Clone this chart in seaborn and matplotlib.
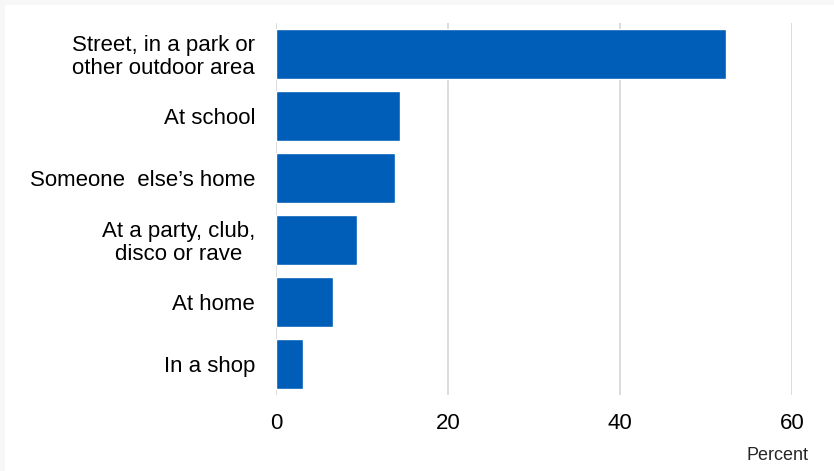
import matplotlib
matplotlib.use('Agg')
import matplotlib.pyplot as plt
from matplotlib.patches import Rectangle
import seaborn as sns
import pandas as pd

locations = ['Street, in a park or\nother outdoor area', 'At school', 'Someone  else\u2019s home',
             'At a party, club,\ndisco or rave', 'At home', 'In a shop']
percent = [52.3, 14.4, 13.8, 9.4, 6.6, 3.1]
xticks = [0, 20, 40, 60]

df = pd.DataFrame({'location': locations, 'percent': percent})

sns.set_style('white')
plt.rcParams['font.family'] = ['Liberation Sans', 'DejaVu Sans']

fig = plt.figure(figsize=(8.34, 4.71), dpi=100, facecolor='#f7f7f7')
# white panel inside the thin grey frame
fig.patches.append(Rectangle((5 / 834, 0), 1, 1 - 5 / 471, transform=fig.transFigure,
                             facecolor='white', edgecolor='none', zorder=-5))
ax = fig.add_axes([276 / 834, 1 - 395 / 471, (792 - 276) / 834, (395 - 23) / 471])
ax.set_zorder(2)
ax.set_facecolor('white')

sns.barplot(data=df, x='percent', y='location', orient='h', color='#005EB8',
            saturation=1, width=0.82, ax=ax)

ax.set_xlim(0, 60)
ax.set_xticks(xticks)
ax.xaxis.grid(True, color='#d9d9d9', linewidth=1.3)
ax.set_axisbelow(True)
for s in ax.spines.values():
    s.set_visible(False)
ax.set_xlabel('')
ax.set_ylabel('')
ax.tick_params(axis='x', length=0, pad=13, labelsize=16, colors='black')
ax.tick_params(axis='y', length=0, pad=15, labelsize=16, colors='black')
for t in ax.get_yticklabels():
    t.set_multialignment('center')
    t.set_linespacing(1.1)

fig.text(808 / 834, 1 - 456 / 471, 'Percent', ha='right', va='center', fontsize=13)

fig.savefig('out.png', dpi=100, facecolor=fig.get_facecolor())
